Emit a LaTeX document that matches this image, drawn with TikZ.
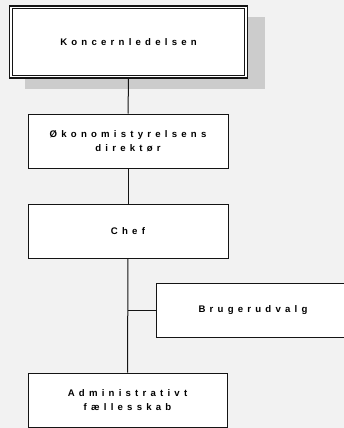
\documentclass[tikz,border=0pt]{standalone}
\usepackage{fontspec}
\setmainfont{Liberation Sans}[LetterSpace=44]
\usepackage{xcolor}
\usepackage{tikz}
\usetikzlibrary{positioning, calc}
\definecolor{pagegray}{RGB}{242,242,242}
\definecolor{shadowgray}{RGB}{204,204,204}
\definecolor{linegray}{RGB}{20,20,20}

\begin{document}
\begin{tikzpicture}[x=1pt, y=-1pt,
    orgbox/.style={draw=linegray, line width=1pt, fill=white, rectangle,
        minimum width=200pt, minimum height=54pt, inner sep=0pt, align=center,
        font=\fontsize{9.6}{14}\selectfont\bfseries},
    orgline/.style={draw=linegray, line width=1pt}]
    % Page and clipping
    \clip (0,0) rectangle (344,428);
    \fill[pagegray] (0,0) rectangle (344,428);
    
    % Shadow of the top box
    \fill[shadowgray] (25,17) rectangle (265,89);
    
    % Draw the boxes
    \node[orgbox, line width=1.5pt, minimum width=238pt, minimum height=72pt] (top) at (128.5,42) {Koncernledelsen};
    \draw[linegray, line width=0.9pt] ([shift={(3.5pt,-3.5pt)}]top.north west) rectangle ([shift={(-3.5pt,3.5pt)}]top.south east);
    
    \node[orgbox] (dir) at (128,141) {Økonomistyrelsens\\direktør};
    \node[orgbox] (chef) at (128,231) {Chef};
    \node[orgbox, minimum width=194pt] (bruger) at (253,310) {Brugerudvalg};
    \node[orgbox, minimum width=199pt] (admin) at (127.5,400) {Administrativt\\fællesskab};
    
    % Add connectors
    \coordinate (junction) at (chef.south |- bruger.west);
    \draw[orgline] (top.south) -- (dir.north);
    \draw[orgline] (dir.south) -- (chef.north);
    \draw[orgline] (chef.south) -- (admin.north);
    \draw[orgline] (junction) -- (bruger.west);
\end{tikzpicture}
\end{document}
